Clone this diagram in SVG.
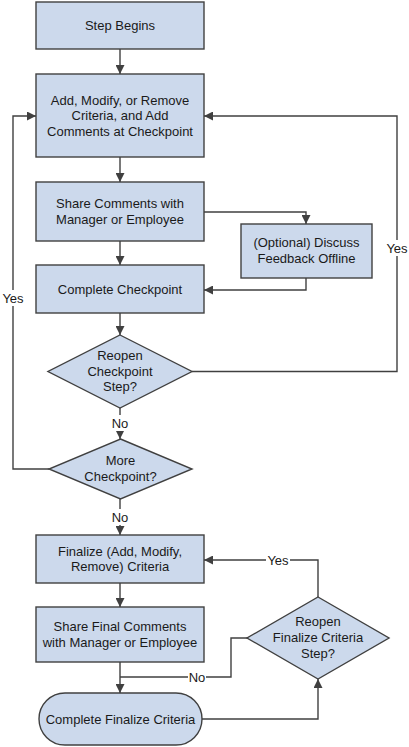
<svg xmlns="http://www.w3.org/2000/svg" width="409" height="747" viewBox="0 0 409 747">
<style>
.n{fill:#ccd9ec;stroke:#404040;stroke-width:1.4}
.c{fill:none;stroke:#404040;stroke-width:1.4}
.t{font-family:"Liberation Sans",Arial,sans-serif;font-size:13px;fill:#1a1a1a;text-anchor:middle}
.bg{fill:#ffffff}
</style>
<defs>
<marker id="a" viewBox="0 0 10 10" refX="10" refY="5" markerWidth="9" markerHeight="9" markerUnits="userSpaceOnUse" orient="auto">
<path d="M0,0 L10,5 L0,10 z" fill="#404040"/>
</marker>
</defs>
<rect width="409" height="747" fill="#ffffff"/>
<g id="connectors">
<path class="c" d="M120,49 V74" marker-end="url(#a)"/>
<path class="c" d="M120,157 V182" marker-end="url(#a)"/>
<path class="c" d="M204,212 H306 V224" marker-end="url(#a)"/>
<path class="c" d="M120,241 V265" marker-end="url(#a)"/>
<path class="c" d="M306,278 V290 H204" marker-end="url(#a)"/>
<path class="c" d="M120,313 V335" marker-end="url(#a)"/>
<path class="c" d="M192,371.5 H397 V116 H204" marker-end="url(#a)"/>
<path class="c" d="M120,408 V439" marker-end="url(#a)"/>
<path class="c" d="M49,469 H13 V116 H36" marker-end="url(#a)"/>
<path class="c" d="M120,499 V535" marker-end="url(#a)"/>
<path class="c" d="M120,583 V607" marker-end="url(#a)"/>
<path class="c" d="M120,662 V693" marker-end="url(#a)"/>
<path class="c" d="M247,638 H231 V677 H120"/>
<path class="c" d="M318,597 V560 H204" marker-end="url(#a)"/>
<path class="c" d="M202,719 H318 V679" marker-end="url(#a)"/>
<rect class="bg" x="385" y="240" width="24" height="16"/>
<text class="t" x="397" y="252.5">Yes</text>
<rect class="bg" x="1" y="290" width="24" height="16"/>
<text class="t" x="13" y="303">Yes</text>
<rect class="bg" x="111" y="415" width="18" height="16"/>
<text class="t" x="120" y="428">No</text>
<rect class="bg" x="111" y="509" width="18" height="16"/>
<text class="t" x="120" y="522">No</text>
<rect class="bg" x="266" y="552" width="24" height="16"/>
<text class="t" x="278" y="564.5">Yes</text>
<rect class="bg" x="188" y="669" width="18" height="16"/>
<text class="t" x="197" y="681.5">No</text>
</g>
<g id="step-begins">
<rect class="n" x="36" y="2" width="168" height="47"/>
<text class="t" x="120" y="29.5">Step Begins</text>
</g>
<g id="add-modify">
<rect class="n" x="36" y="74" width="168" height="83"/>
<text class="t" x="120" y="104.5">Add, Modify, or Remove</text>
<text class="t" x="120" y="120">Criteria, and Add</text>
<text class="t" x="120" y="135.5">Comments at Checkpoint</text>
</g>
<g id="share-comments">
<rect class="n" x="36" y="182" width="168" height="59"/>
<text class="t" x="120" y="208">Share Comments with</text>
<text class="t" x="120" y="223.5">Manager or Employee</text>
</g>
<g id="optional-discuss">
<rect class="n" x="241" y="224" width="131" height="54"/>
<text class="t" x="306.5" y="247">(Optional) Discuss</text>
<text class="t" x="306.5" y="263">Feedback Offline</text>
</g>
<g id="complete-checkpoint">
<rect class="n" x="36" y="265" width="168" height="48"/>
<text class="t" x="120" y="294">Complete Checkpoint</text>
</g>
<g id="reopen-checkpoint">
<polygon class="n" points="120,335 192,371.5 120,408 48,371.5"/>
<text class="t" x="120" y="360">Reopen</text>
<text class="t" x="120" y="375.5">Checkpoint</text>
<text class="t" x="120" y="391">Step?</text>
</g>
<g id="more-checkpoint">
<polygon class="n" points="120.5,439 192,469 120.5,499 49,469"/>
<text class="t" x="120.5" y="465">More</text>
<text class="t" x="120.5" y="481">Checkpoint?</text>
</g>
<g id="finalize">
<rect class="n" x="36" y="535" width="168" height="48"/>
<text class="t" x="120" y="556">Finalize (Add, Modify,</text>
<text class="t" x="120" y="571">Remove) Criteria</text>
</g>
<g id="share-final">
<rect class="n" x="36" y="607" width="168" height="55"/>
<text class="t" x="120" y="631">Share Final Comments</text>
<text class="t" x="120" y="647">with Manager or Employee</text>
</g>
<g id="reopen-finalize">
<polygon class="n" points="318,597 389,638 318,679 247,638"/>
<text class="t" x="318" y="626">Reopen</text>
<text class="t" x="318" y="642">Finalize Criteria</text>
<text class="t" x="318" y="658">Step?</text>
</g>
<g id="complete-finalize">
<rect class="n" x="39" y="693" width="163" height="52" rx="26" ry="26"/>
<text class="t" x="120.5" y="724">Complete Finalize Criteria</text>
</g>
</svg>
